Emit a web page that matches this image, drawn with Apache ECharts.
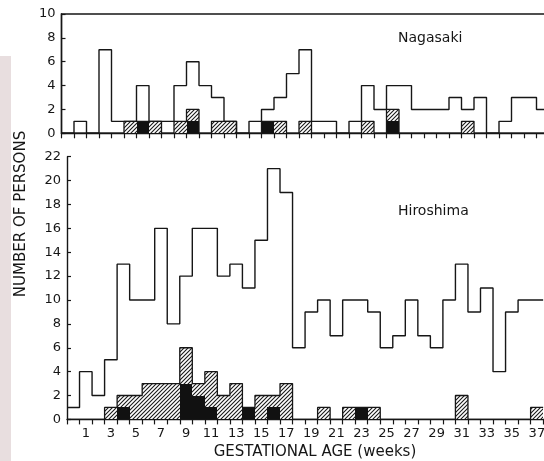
<!DOCTYPE html>
<html><head><meta charset="utf-8">
<script src="https://cdn.jsdelivr.net/npm/echarts@6/dist/echarts.min.js"></script>
<style>html,body{margin:0;padding:0;background:#fff}#c{width:544px;height:461px}</style>
</head><body><div id="c"></div>
<script>
// ---- data (gestational age in weeks, counts of persons) ----
const weeks = [0,1,2,3,4,5,6,7,8,9,10,11,12,13,14,15,16,17,18,19,20,21,22,23,24,25,26,27,28,29,30,31,32,33,34,35,36,37,38];
const weekLabels = ['', '1', '', '3', '', '5', '', '7', '', '9', '', '11', '', '13', '', '15', '', '17', '', '19', '', '21', '', '23', '', '25', '', '27', '', '29', '', '31', '', '33', '', '35', '', '37', ''];

// Nagasaki (weeks 0..38)
const nagasakiTotal   = [0,1,0,7,1,1,4,1,1,4,6,4,3,1,0,1,2,3,5,7,1,1,0,1,4,2,4,4,2,2,2,3,2,3,0,1,3,3,2];
const nagasakiHatched = [0,0,0,0,0,1,1,1,0,1,2,0,1,1,0,0,1,1,0,1,0,0,0,0,1,0,2,0,0,0,0,0,1,0,0,0,0,0,0];
const nagasakiBlack   = [0,0,0,0,0,0,1,0,0,0,1,0,0,0,0,0,1,0,0,0,0,0,0,0,0,0,1,0,0,0,0,0,0,0,0,0,0,0,0];

// Hiroshima (weeks 0..37)
const hiroshimaTotal   = [1,4,2,5,13,10,10,16,8,12,16,16,12,13,11,15,21,19,6,9,10,7,10,10,9,6,7,10,7,6,10,13,9,11,4,9,10,10];
const hiroshimaHatched = [0,0,0,1,2,2,3,3,3,6,3,4,2,3,1,2,2,3,0,0,1,0,1,1,1,0,0,0,0,0,0,2,0,0,0,0,0,1];
const hiroshimaBlack   = [0,0,0,0,1,0,0,0,0,3,2,1,0,0,1,0,1,0,0,0,0,0,0,1,0,0,0,0,0,0,0,0,0,0,0,0,0,0];

const nagasakiYTicks  = [0,2,4,6,8,10];
const hiroshimaYTicks = [0,2,4,6,8,10,12,14,16,18,20,22];

// ---- helpers ----
const INK = '#161616';
const FONT = 'DejaVu Sans';

function hatchCanvas() {
  const s = 4;
  const c = document.createElement('canvas');
  c.width = s; c.height = s;
  const g = c.getContext('2d');
  g.fillStyle = '#fff'; g.fillRect(0, 0, s, s);
  g.strokeStyle = '#1a1a1a'; g.lineWidth = 1.1;
  g.beginPath();
  g.moveTo(-1, s + 1); g.lineTo(s + 1, -1);
  g.moveTo(-1, 1); g.lineTo(1, -1);
  g.moveTo(s - 1, s + 1); g.lineTo(s + 1, s - 1);
  g.stroke();
  return c;
}
const hatchFill = { image: hatchCanvas(), repeat: 'repeat' };

function stepPoints(values) {
  const pts = values.map((v, k) => [weeks[k] - 0.5, v]);
  pts.push([weeks[values.length - 1] + 0.5, values[values.length - 1]]);
  return pts;
}
function barData(values) {
  return values.map((v, k) => [weeks[k], v]);
}
function rectRenderer(fill) {
  return function (params, api) {
    const k = api.value(0), v = api.value(1);
    if (!v) return null;
    const a = api.coord([k - 0.5, v]);
    const b = api.coord([k + 0.5, 0]);
    const x0 = Math.round(a[0]), x1 = Math.round(b[0]);
    const y0 = Math.round(a[1]), y1 = Math.round(b[1]);
    return { type: 'rect', shape: { x: x0, y: y0, width: x1 - x0, height: y1 - y0 }, style: { fill: fill } };
  };
}

const xMin = weeks[0] - 0.5, xMax = weeks[weeks.length - 1] + 0.5;

function catAxis(gridIndex, showLabels) {
  return {
    type: 'category', gridIndex, data: weeks, boundaryGap: true,
    axisLine: { show: true, onZero: false, lineStyle: { color: INK, width: 1.4 } },
    axisTick: { show: true, inside: false, length: 5, interval: 0, lineStyle: { color: INK, width: 1.2 } },
    axisLabel: { show: showLabels, interval: 0, margin: 8, color: INK, fontFamily: FONT, fontSize: 13,
                 formatter: (v, i) => weekLabels[i] },
    splitLine: { show: false }
  };
}
function valAxis(gridIndex) {
  return { type: 'value', gridIndex, min: xMin, max: xMax, show: false, splitLine: { show: false },
           axisLine: { onZero: false } };
}
function yAxis(gridIndex, ticks) {
  return {
    type: 'value', gridIndex, min: ticks[0], max: ticks[ticks.length - 1], interval: ticks[1] - ticks[0],
    position: 'left',
    axisLine: { show: true, onZero: false, lineStyle: { color: INK, width: 1.4 } },
    axisTick: { show: true, inside: true, length: 4, lineStyle: { color: INK, width: 1.2 } },
    axisLabel: { show: true, margin: 6, color: INK, fontFamily: FONT, fontSize: 13 },
    splitLine: { show: false }
  };
}

const option = {
  animation: false,
  backgroundColor: '#ffffff',
  grid: [
    { left: 61.5, top: 14, width: 12.5 * weeks.length, height: 119.3, show: true,
      borderColor: INK, borderWidth: 1.4, backgroundColor: 'transparent', containLabel: false, outerBoundsMode: 'none' },
    { left: 67, top: 156.7, width: 12.53 * weeks.length, height: 262.7, containLabel: false, outerBoundsMode: 'none' }
  ],
  xAxis: [ catAxis(0, false), valAxis(0), catAxis(1, true), valAxis(1) ],
  yAxis: [ yAxis(0, nagasakiYTicks), yAxis(1, hiroshimaYTicks) ],
  series: [
    // Nagasaki
    { type: 'custom', xAxisIndex: 1, yAxisIndex: 0, renderItem: rectRenderer(hatchFill), data: barData(nagasakiHatched), z: 2, silent: true },
    { type: 'custom', xAxisIndex: 1, yAxisIndex: 0, renderItem: rectRenderer('#111'), data: barData(nagasakiBlack), z: 3, silent: true },
    { type: 'line', xAxisIndex: 1, yAxisIndex: 0, step: 'end', showSymbol: false, symbol: 'none', data: stepPoints(nagasakiHatched),
      lineStyle: { color: INK, width: 1.3 }, z: 4, silent: true },
    { type: 'line', xAxisIndex: 1, yAxisIndex: 0, step: 'end', showSymbol: false, symbol: 'none', data: stepPoints(nagasakiTotal),
      lineStyle: { color: INK, width: 1.4 }, z: 5, silent: true },
    // Hiroshima
    { type: 'custom', xAxisIndex: 3, yAxisIndex: 1, renderItem: rectRenderer(hatchFill), data: barData(hiroshimaHatched), z: 2, silent: true },
    { type: 'custom', xAxisIndex: 3, yAxisIndex: 1, renderItem: rectRenderer('#111'), data: barData(hiroshimaBlack), z: 3, silent: true },
    { type: 'line', xAxisIndex: 3, yAxisIndex: 1, step: 'end', showSymbol: false, symbol: 'none', data: stepPoints(hiroshimaHatched),
      lineStyle: { color: INK, width: 1.3 }, z: 4, silent: true },
    { type: 'line', xAxisIndex: 3, yAxisIndex: 1, step: 'end', showSymbol: false, symbol: 'none', data: stepPoints(hiroshimaTotal),
      lineStyle: { color: INK, width: 1.4 }, z: 5, silent: true }
  ],
  graphic: [
    { type: 'rect', left: 0, top: 56, z: -10, shape: { width: 11, height: 405 }, style: { fill: '#e8dedf' } },
    { type: 'text', x: 398, y: 38, style: { text: 'Nagasaki', fill: INK, font: '14px "DejaVu Sans"',
      align: 'left', verticalAlign: 'middle', textAlign: 'left', textVerticalAlign: 'middle' } },
    { type: 'text', x: 398, y: 211, style: { text: 'Hiroshima', fill: INK, font: '14px "DejaVu Sans"',
      align: 'left', verticalAlign: 'middle', textAlign: 'left', textVerticalAlign: 'middle' } },
    { type: 'text', x: 315, y: 452, style: { text: 'GESTATIONAL AGE (weeks)', fill: INK, font: '15px "DejaVu Sans"',
      align: 'center', verticalAlign: 'middle', textAlign: 'center', textVerticalAlign: 'middle' } },
    { type: 'text', x: 21.5, y: 214, rotation: Math.PI / 2, style: { text: 'NUMBER OF PERSONS', fill: INK, font: '15px "DejaVu Sans"',
      align: 'center', verticalAlign: 'middle', textAlign: 'center', textVerticalAlign: 'middle' } }
  ]
};

const chart = echarts.init(document.getElementById('c'), null, { renderer: 'canvas' });
chart.setOption(option);
</script>
</body></html>
